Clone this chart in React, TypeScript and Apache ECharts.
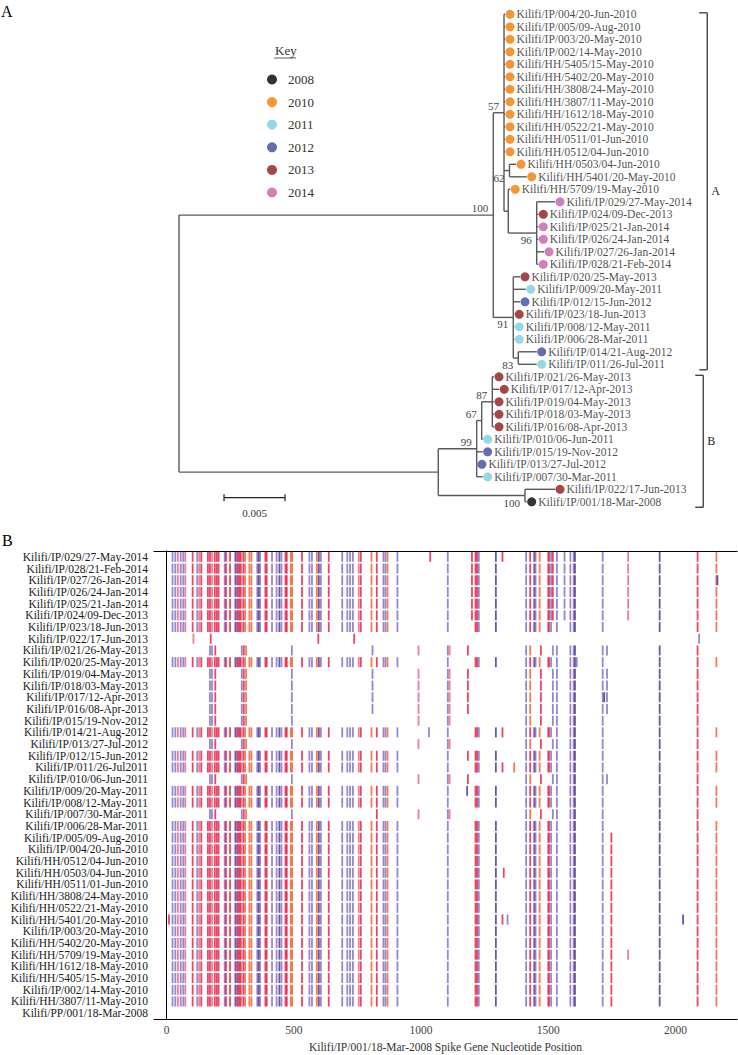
import React, { useEffect, useRef } from "react";
import * as echarts from "echarts";

const SERIF = '"Liberation Serif", "DejaVu Serif", serif';

// ---------- Panel A: phylogenetic tree (Newick, branch lengths in substitutions/site) ----------
const TREE_NEWICK = `(
((Kilifi/IP/004/20-Jun-2010:0.00008,Kilifi/IP/005/09-Aug-2010:0.00008,Kilifi/IP/003/20-May-2010:0.00008,
Kilifi/IP/002/14-May-2010:0.00008,Kilifi/HH/5405/15-May-2010:0.00008,Kilifi/HH/5402/20-May-2010:0.00008,
Kilifi/HH/3808/24-May-2010:0.00008,Kilifi/HH/3807/11-May-2010:0.00008,Kilifi/HH/1612/18-May-2010:0.00008,
Kilifi/HH/0522/21-May-2010:0.00008,Kilifi/HH/0511/01-Jun-2010:0.00008,Kilifi/HH/0512/04-Jun-2010:0.00008,
(Kilifi/HH/0503/04-Jun-2010:0.00053,Kilifi/HH/5401/20-May-2010:0.00141)62:0.00045,
(Kilifi/HH/5709/19-May-2010:0.00016,(Kilifi/IP/029/27-May-2014:0.0015,Kilifi/IP/024/09-Dec-2013:0.00013,
Kilifi/IP/025/21-Jan-2014:0.00013,Kilifi/IP/026/24-Jan-2014:0.00013,Kilifi/IP/027/26-Jan-2014:0.0006,
Kilifi/IP/028/21-Feb-2014:0.00013)96:0.00233):0.00035)57:0.00088,
(Kilifi/IP/020/25-May-2013:0.00055,Kilifi/IP/009/20-May-2011:0.00102,Kilifi/IP/012/15-Jun-2012:0.00055,
Kilifi/IP/023/18-Jun-2013:0.00008,Kilifi/IP/008/12-May-2011:0.00008,Kilifi/IP/006/28-Mar-2011:0.00008,
(Kilifi/IP/014/21-Aug-2012:0.00151,Kilifi/IP/011/26-Jul-2011:0.00151)83:0.00041)91:0.00164)100:0.02576,
((((Kilifi/IP/021/26-May-2013:0.00014,Kilifi/IP/017/12-Apr-2013:0.00057,Kilifi/IP/019/04-May-2013:0.00014,
Kilifi/IP/018/03-May-2013:0.00014,Kilifi/IP/016/08-Apr-2013:0.00014)87:0.00087,Kilifi/IP/010/06-Jun-2011:0.00008)67:0.00041,
Kilifi/IP/015/19-Nov-2012:0.00049,Kilifi/IP/013/27-Jul-2012:0.00002,Kilifi/IP/007/30-Mar-2011:0.00049)99:0.00315,
(Kilifi/IP/022/17-Jun-2013:0.00246,Kilifi/IP/001/18-Mar-2008:0.00014)100:0.00711):0.02125);`;

const KEY_YEARS = ["2008", "2010", "2011", "2012", "2013", "2014"];
const YEAR_COLORS = ["#000000", "#f07c00", "#7ccfe0", "#3c4a9e", "#8c1a1a", "#c65fa6"];
const SCALE_BAR_LENGTH = 0.005;
const SCALE_BAR_LABEL = "0.005";
const CLADES = [
  { name: "A", first: 0, last: 28 },
  { name: "B", first: 29, last: 39 },
];

// ---------- Panel B: highlighter plot ----------
const ROW_LABELS = [
  "Kilifi/IP/029/27-May-2014", "Kilifi/IP/028/21-Feb-2014", "Kilifi/IP/027/26-Jan-2014",
  "Kilifi/IP/026/24-Jan-2014", "Kilifi/IP/025/21-Jan-2014", "Kilifi/IP/024/09-Dec-2013",
  "Kilifi/IP/023/18-Jun-2013", "Kilifi/IP/022/17-Jun-2013", "Kilifi/IP/021/26-May-2013",
  "Kilifi/IP/020/25-May-2013", "Kilifi/IP/019/04-May-2013", "Kilifi/IP/018/03-May-2013",
  "Kilifi/IP/017/12-Apr-2013", "Kilifi/IP/016/08-Apr-2013", "Kilifi/IP/015/19-Nov-2012",
  "Kilifi/IP/014/21-Aug-2012", "Kilifi/IP/013/27-Jul-2012", "Kilifi/IP/012/15-Jun-2012",
  "Kilifi/IP/011/26-Jul2011", "Kilifi/IP/010/06-Jun-2011", "Kilifi/IP/009/20-May-2011",
  "Kilifi/IP/008/12-May-2011", "Kilifi/IP/007/30-Mar-2011", "Kilifi/IP/006/28-Mar-2011",
  "Kilifi/IP/005/09-Aug-2010", "Kilifi/IP/004/20-Jun-2010", "Kilifi/HH/0512/04-Jun-2010",
  "Kilifi/HH/0503/04-Jun-2010", "Kilifi/HH/0511/01-Jun-2010", "Kilifi/HH/3808/24-May-2010",
  "Kilifi/HH/0522/21-May-2010", "Kilifi/HH/5401/20-May-2010", "Kilifi/IP/003/20-May-2010",
  "Kilifi/HH/5402/20-May-2010", "Kilifi/HH/5709/19-May-2010", "Kilifi/HH/1612/18-May-2010",
  "Kilifi/HH/5405/15-May-2010", "Kilifi/IP/002/14-May-2010", "Kilifi/HH/3807/11-May-2010",
  "Kilifi/PP/001/18-Mar-2008",
];
const X_TICKS = [0, 500, 1000, 1500, 2000];

// mutation = [nucleotide position, colour key]
const LEFT_SHARED: [number, string][] = [
  [23, "p"], [34, "p"], [44, "k"], [55, "p"], [65, "p"], [73, "k"], [102, "r"], [120, "p"], [128, "k"],
  [136, "r"], [162, "r"], [170, "r"], [178, "k"], [189, "r"], [197, "r"], [204, "r"], [228, "p"], [233, "r"],
  [249, "r"], [270, "d"], [275, "p"], [280, "r"], [286, "r"], [291, "r"], [301, "r"], [308, "o"], [325, "o"],
  [333, "o"], [356, "p"], [362, "d"], [367, "p"], [388, "r"], [393, "r"], [414, "p"], [432, "p"], [443, "d"],
  [451, "p"], [467, "r"], [472, "r"], [488, "o"], [493, "o"], [532, "r"], [561, "p"], [571, "p"], [590, "o"],
  [598, "d"], [606, "p"], [637, "r"], [690, "p"], [710, "p"], [721, "p"], [732, "p"], [755, "k"], [763, "r"],
  [805, "o"], [826, "r"], [852, "p"], [860, "p"], [868, "o"], [907, "p"],
];
const RIGHT_CORE: [number, string][] = [
  [1105, "p"], [1214, "r"], [1220, "r"], [1227, "p"], [1294, "d"], [1413, "p"], [1429, "r"], [1445, "d"],
  [1450, "p"], [1466, "o"], [1499, "k"], [1503, "r"], [1511, "p"], [1534, "p"], [1587, "p"], [1600, "p"],
  [1605, "d"], [1714, "p"], [1938, "d"], [2087, "r"], [2161, "o"],
];
const EXTRA_2010: [number, string][] = [[1748, "r"]];
const EXTRA_2014: [number, string][] = [[1200, "r"], [1518, "r"], [1564, "p"], [1814, "k"]];
const CLADE_B_CORE: [number, string][] = [
  [170, "p"], [178, "p"], [191, "r"], [295, "p"], [303, "r"], [312, "o"], [492, "p"], [990, "k"],
  [1105, "p"], [1112, "k"], [1413, "p"], [1429, "o"], [1471, "r"], [1518, "p"], [1534, "p"], [1587, "p"],
  [1600, "p"], [1605, "d"], [1714, "p"], [1938, "d"], [2087, "r"],
];
const CLADE_B_EXTRA: [number, string][] = [[809, "p"], [1184, "r"], [1731, "p"]];
const ROW_022: [number, string][] = [[105, "k"], [173, "r"], [596, "r"], [737, "r"], [2093, "p"]];
const X_029: [number, string][] = [[1036, "r"], [1320, "r"]];
const X_027: [number, string][] = [[2165, "d"]];
const X_020: [number, string][] = [[1612, "p"]];
const X_014: [number, string][] = [[1031, "p"], [1320, "r"]];
const X_012: [number, string][] = [[1184, "r"]];
const X_011: [number, string][] = [[1320, "r"], [1366, "o"]];
const X_010: [number, string][] = [[1184, "r"], [1731, "p"]];
const X_009: [number, string][] = [[1181, "d"]];
const X_007: [number, string][] = [[826, "r"]];
const X_017: [number, string][] = [[1720, "d"]];
const X_0503: [number, string][] = [[1325, "r"]];
const X_5401: [number, string][] = [[9, "r"], [1320, "r"], [1340, "p"], [2030, "d"]];
const X_5709: [number, string][] = [[1814, "k"]];

const G2014 = [LEFT_SHARED, RIGHT_CORE, EXTRA_2014];
const GA = [LEFT_SHARED, RIGHT_CORE];
const G2010 = [LEFT_SHARED, RIGHT_CORE, EXTRA_2010];
const GB = [CLADE_B_CORE, CLADE_B_EXTRA];
const ROW_SETS: [number, string][][][] = [
  [...G2014, X_029], G2014, [...G2014, X_027], G2014, G2014, G2014,
  GA, [ROW_022], GB,
  [...GA, X_020], GB, GB, [...GB, X_017], GB, [CLADE_B_CORE],
  [...GA, X_014], [CLADE_B_CORE], [...GA, X_012], [...GA, X_011], [CLADE_B_CORE, X_010],
  [...GA, X_009], GA, [CLADE_B_CORE, X_007], GA,
  G2010, G2010, G2010, [...G2010, X_0503], G2010, G2010, G2010, [...G2010, X_5401], G2010,
  G2010, [...G2010, X_5709], G2010, G2010, G2010, G2010,
  [],
];
const MUT_COLORS: Record<string, string> = {
  r: "#e3173e", k: "#e4637e", p: "#7c69c2", d: "#4a2b8c", o: "#f05a2a",
};

type TNode = { name: string; len: number; children: TNode[]; x?: number; y?: number; first?: boolean };

function parseNewick(src: string): TNode {
  const s = src.replace(/\s+/g, "");
  let i = 0;
  const parse = (): TNode => {
    const node: TNode = { name: "", len: 0, children: [] };
    if (s[i] === "(") {
      i++;
      node.children.push(parse());
      while (s[i] === ",") { i++; node.children.push(parse()); }
      i++;
    }
    let name = "";
    while (i < s.length && !",():;".includes(s[i])) name += s[i++];
    node.name = name;
    if (s[i] === ":") {
      i++;
      let num = "";
      while (i < s.length && !",();".includes(s[i])) num += s[i++];
      node.len = parseFloat(num);
    }
    return node;
  };
  return parse();
}

function layoutTree(root: TNode) {
  const leaves: TNode[] = [];
  const internals: TNode[] = [];
  let counter = 0;
  const walk = (n: TNode, x: number, first: boolean) => {
    n.x = x;
    n.first = first;
    if (!n.children.length) { n.y = counter++; leaves.push(n); return; }
    n.children.forEach((c, k) => walk(c, x + c.len, k === 0));
    n.y = (n.children[0].y! + n.children[n.children.length - 1].y!) / 2;
    internals.push(n);
  };
  walk(root, 0, true);
  const segments: number[][] = [];
  internals.forEach((n) => {
    const a = n.children[0], b = n.children[n.children.length - 1];
    segments.push([n.x!, a.y!, n.x!, b.y!]);
    n.children.forEach((c) => segments.push([n.x!, c.y!, c.x!, c.y!]));
  });
  return { leaves, internals, segments };
}

export default function App() {
  const ref = useRef<HTMLDivElement>(null);
  useEffect(() => {
    document.body.style.margin = "0";
    const chart = echarts.init(ref.current!, undefined, { renderer: "svg" });
    const tree = layoutTree(parseNewick(TREE_NEWICK));
    const supports = tree.internals.filter((n) => n.name);

    const yearSeries = KEY_YEARS.map((yr, k) => ({
      name: yr,
      type: "scatter",
      xAxisIndex: 0,
      yAxisIndex: 0,
      symbol: "circle",
      symbolSize: 9,
      symbolOffset: [5, 0],
      itemStyle: { color: YEAR_COLORS[k] },
      label: {
        show: true, position: "right", distance: 2, formatter: "{b}",
        fontFamily: SERIF, fontSize: 11.5, color: "#1a1a1a",
      },
      data: tree.leaves.filter((l) => l.name.slice(-4) === yr).map((l) => ({ name: l.name, value: [l.x, l.y] })),
    }));

    const mutData: any[] = [];
    ROW_SETS.forEach((sets, row) => {
      sets.forEach((set) => set.forEach(([pos, c]) => {
        mutData.push({ value: [pos, row], itemStyle: { color: MUT_COLORS[c] } });
      }));
    });

    const axisLine = { show: true, lineStyle: { color: "#000", width: 1 } };
    const option: any = {
      animation: false,
      textStyle: { fontFamily: SERIF },
      grid: [
        { left: 179, top: 8.05, width: 549, height: 500 },
        { left: 154, top: 551, width: 583, height: 468 },
      ],
      xAxis: [
        { type: "value", gridIndex: 0, min: 0, max: 0.045, show: false },
        {
          type: "value", gridIndex: 1, min: -50, max: 2242, position: "bottom",
          axisLine, splitLine: { show: false },
          axisTick: { inside: true, length: 3, customValues: X_TICKS, lineStyle: { color: "#000" } },
          axisLabel: {
            customValues: X_TICKS, formatter: (v: number) => String(v),
            fontFamily: SERIF, fontSize: 11.5, color: "#444", margin: 5,
          },
          name: "Kilifi/IP/001/18-Mar-2008 Spike Gene Nucleotide Position",
          nameLocation: "middle", nameGap: 22,
          nameTextStyle: { fontFamily: SERIF, fontSize: 11.5, color: "#333" },
        },
        {
          type: "value", gridIndex: 1, min: -50, max: 2242, position: "top",
          axisLine, splitLine: { show: false },
          axisTick: { inside: true, length: 3, customValues: X_TICKS, lineStyle: { color: "#000" } },
          axisLabel: { show: false },
        },
      ],
      yAxis: [
        { type: "value", gridIndex: 0, min: -0.5, max: 39.5, inverse: true, show: false },
        {
          type: "category", gridIndex: 1, data: ROW_LABELS, inverse: true, axisLine,
          axisTick: { inside: true, length: 3, lineStyle: { color: "#000" } },
          axisLabel: { interval: 0, fontFamily: SERIF, fontSize: 11.5, color: "#1a1a1a", margin: 6 },
        },
        {
          type: "category", gridIndex: 1, data: ROW_LABELS, inverse: true, position: "right", axisLine,
          axisTick: { inside: true, length: 3, lineStyle: { color: "#000" } },
          axisLabel: { show: false },
        },
      ],
      legend: {
        data: KEY_YEARS, orient: "vertical", left: 262, top: 68, itemWidth: 22, itemHeight: 10,
        itemGap: 9.6, icon: "circle", selectedMode: false,
        textStyle: { fontFamily: SERIF, fontSize: 13, color: "#333" },
      },
      graphic: [
        { type: "text", left: 1, top: 3, style: { text: "A", font: `16px ${SERIF}`, fill: "#000" } },
        { type: "text", left: 2, top: 532, style: { text: "B", font: `16px ${SERIF}`, fill: "#000" } },
        { type: "text", left: 275, top: 44, style: { text: "Key", font: `13px ${SERIF}`, fill: "#333" } },
        { type: "line", shape: { x1: 274, y1: 58, x2: 296, y2: 58 }, style: { stroke: "#333", lineWidth: 0.8 } },
      ],
      series: [
        {
          type: "custom", xAxisIndex: 0, yAxisIndex: 0, silent: true, data: tree.segments,
          renderItem: (_p: any, api: any) => {
            const a = api.coord([api.value(0), api.value(1)]);
            const b = api.coord([api.value(2), api.value(3)]);
            return {
              type: "line", shape: { x1: a[0], y1: a[1], x2: b[0], y2: b[1] },
              style: { stroke: "#5a5a5a", lineWidth: 1.4 },
            };
          },
        },
        {
          type: "custom", xAxisIndex: 0, yAxisIndex: 0, silent: true,
          data: supports.map((n) => [n.x, n.y]),
          renderItem: (p: any, api: any) => {
            const n = supports[p.dataIndex];
            const c = api.coord([api.value(0), api.value(1)]);
            return {
              type: "text", x: c[0] - 5, y: c[1] + (n.first ? -7 : 7),
              style: { text: n.name, fill: "#444", font: `11px ${SERIF}`, align: "right", verticalAlign: "middle" },
            };
          },
        },
        {
          type: "custom", xAxisIndex: 0, yAxisIndex: 0, silent: true,
          data: CLADES.map((c) => [0.0433, c.first, c.last]),
          renderItem: (p: any, api: any) => {
            const cl = CLADES[p.dataIndex];
            const t = api.coord([api.value(0), api.value(1)]);
            const b = api.coord([api.value(0), api.value(2)]);
            const x = t[0] - (cl.name === "B" ? 4 : 0);
            const y1 = t[1] - 1.5, y2 = b[1] + 5.5;
            const st = { stroke: "#444", lineWidth: 1.4 };
            return {
              type: "group",
              children: [
                { type: "line", shape: { x1: x, y1, x2: x, y2 }, style: st },
                { type: "line", shape: { x1: x - 8, y1, x2: x, y2: y1 }, style: st },
                { type: "line", shape: { x1: x - 8, y1: y2, x2: x, y2 }, style: st },
                {
                  type: "text", x: x + 4, y: (y1 + y2) / 2,
                  style: { text: cl.name, fill: "#222", font: `12px ${SERIF}`, verticalAlign: "middle" },
                },
              ],
            };
          },
        },
        {
          type: "custom", xAxisIndex: 0, yAxisIndex: 0, silent: true,
          data: [[0.00369, 38.67]],
          renderItem: (_p: any, api: any) => {
            const a = api.coord([api.value(0), api.value(1)]);
            const b = api.coord([api.value(0) + SCALE_BAR_LENGTH, api.value(1)]);
            const st = { stroke: "#222", lineWidth: 1.2 };
            return {
              type: "group",
              children: [
                { type: "line", shape: { x1: a[0], y1: a[1], x2: b[0], y2: b[1] }, style: st },
                { type: "line", shape: { x1: a[0], y1: a[1] - 3.5, x2: a[0], y2: a[1] + 3.5 }, style: st },
                { type: "line", shape: { x1: b[0], y1: b[1] - 3.5, x2: b[0], y2: b[1] + 3.5 }, style: st },
                {
                  type: "text", x: (a[0] + b[0]) / 2, y: a[1] + 15,
                  style: { text: SCALE_BAR_LABEL, fill: "#333", font: `11px ${SERIF}`, align: "center", verticalAlign: "middle" },
                },
              ],
            };
          },
        },
        ...yearSeries,
        {
          type: "scatter", xAxisIndex: 1, yAxisIndex: 1, symbol: "rect", symbolSize: [1.8, 10],
          silent: true, data: mutData,
        },
      ],
    };
    chart.setOption(option);
    return () => chart.dispose();
  }, []);
  return <div ref={ref} style={{ width: 738, height: 1055 }} />;
}
